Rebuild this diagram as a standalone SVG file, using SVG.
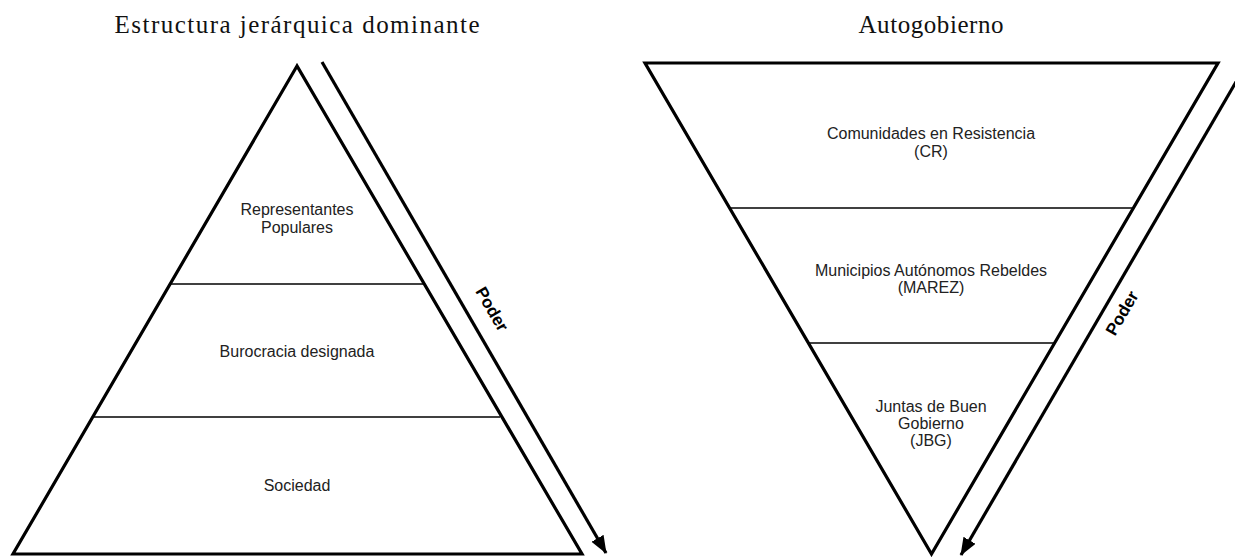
<svg xmlns="http://www.w3.org/2000/svg" width="1235" height="557" viewBox="0 0 1235 557">
<style>
.title{font-family:"Liberation Serif","Times New Roman",serif;font-size:25px;fill:#111;text-anchor:middle}
.lbl{font-family:"Liberation Sans",Arial,sans-serif;font-size:16px;fill:#222;text-anchor:middle}
.poder{font-family:"Liberation Sans",Arial,sans-serif;font-size:17px;font-weight:bold;fill:#000;text-anchor:middle}
.tri{fill:none;stroke:#000;stroke-width:3.2;stroke-linejoin:miter}
.div{stroke:#000;stroke-width:1.4}
.arr{stroke:#000;stroke-width:3.2;fill:none}
</style>
<defs>
<marker id="ah" markerUnits="userSpaceOnUse" markerWidth="20" markerHeight="16" refX="17" refY="7" orient="auto">
<path d="M0,0 L18,7 L0,14 z" fill="#000"/>
</marker>
</defs>
<g id="title-left"><text class="title" x="297" y="33" textLength="365" lengthAdjust="spacing">Estructura jerárquica dominante</text></g>
<g id="title-right"><text class="title" x="931" y="33" textLength="145" lengthAdjust="spacing">Autogobierno</text></g>
<g id="pyramid">
<polygon class="tri" points="297,66 13,554 582,554"/>
<line class="div" x1="171" y1="284" x2="423" y2="284"/>
<line class="div" x1="94" y1="417" x2="500" y2="417"/>
</g>
<g id="node-representantes"><text class="lbl" x="297" y="215">Representantes</text><text class="lbl" x="297" y="233">Populares</text></g>
<g id="node-burocracia"><text class="lbl" x="297" y="357">Burocracia designada</text></g>
<g id="node-sociedad"><text class="lbl" x="297" y="491">Sociedad</text></g>
<g id="inverted">
<polygon class="tri" points="645,63 1218,63 931.5,554"/>
<line class="div" x1="730" y1="208" x2="1133" y2="208"/>
<line class="div" x1="809" y1="343" x2="1055" y2="343"/>
</g>
<g id="node-cr"><text class="lbl" x="931" y="139">Comunidades en Resistencia</text><text class="lbl" x="931" y="157">(CR)</text></g>
<g id="node-marez"><text class="lbl" x="931" y="276">Municipios Autónomos Rebeldes</text><text class="lbl" x="931" y="293">(MAREZ)</text></g>
<g id="node-jbg"><text class="lbl" x="931" y="412">Juntas de Buen</text><text class="lbl" x="931" y="429">Gobierno</text><text class="lbl" x="931" y="446">(JBG)</text></g>
<g id="connectors">
<line class="arr" x1="322" y1="62" x2="606" y2="553" marker-end="url(#ah)"/>
<line class="arr" x1="1247" y1="63" x2="961" y2="555" marker-end="url(#ah)"/>
</g>
<g id="label-poder-left"><text class="poder" transform="translate(487,312) rotate(59.9)" x="0" y="0">Poder</text></g>
<g id="label-poder-right"><text class="poder" transform="translate(1127,316) rotate(-59.8)" x="0" y="0">Poder</text></g>
</svg>
